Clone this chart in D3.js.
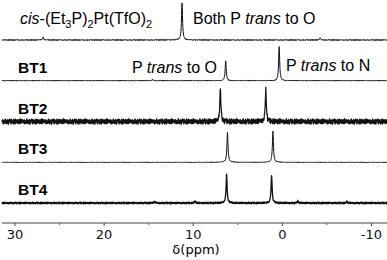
<!DOCTYPE html>
<html>
<head>
<meta charset="utf-8">
<script src="https://cdn.jsdelivr.net/npm/d3@7"></script>
<style>
body { margin: 0; background: #fff; }
text { font-family: "Liberation Sans", Arial, sans-serif; }
.tick text { font-family: "DejaVu Sans", Verdana, sans-serif; }
</style>
</head>
<body>
<svg id="chart"></svg>
<script>
var screen = {width: 387, height: 260};

// spectra, top to bottom
var spectra = ["cis", "BT1", "BT2", "BT3", "BT4"];

// peaks: [ppm, intensity]
var peaksCis = [[11.2, 92], [26.8, 7], [-4.3, 5]];
var peaksBT1 = [[6.3, 50], [0.3, 85], [14.5, 4]];
var peaksBT2 = [[6.9, 85], [1.8, 83]];
var peaksBT3 = [[6.1, 75], [1.0, 78]];
var peaksBT4 = [[6.2, 70], [1.15, 70], [14.3, 4], [9.75, 5], [-1.8, 5], [-7.3, 4]];

// noise level of each trace (same units as intensity)
var noiseLevels = [1.2, 1.0, 7, 0.8, 2.2];
var lineWidths = [1, 1, 1.2, 1, 1.3];

// hand typed baseline wiggle, cycled along each trace
var noiseTable = [0.3, -0.6, 0.9, -0.2, -0.8, 0.5, 0.1, -0.4, 0.7, -0.9,
                  0.2, 0.6, -0.3, -0.7, 0.8, -0.1, 0.4, -0.5, 1.0, -0.6,
                  0.0, 0.5, -0.9, 0.3, 0.7, -0.4, -0.2, 0.9, -0.8, 0.1,
                  0.6, -0.3, -0.6, 0.4, 0.2, -1.0, 0.8, -0.1, 0.5, -0.7,
                  0.3, 0.9, -0.5, -0.2, 0.6, -0.8, 0.1, 0.7, -0.4, -0.3,
                  0.4, -0.9, 0.2, 0.8, -0.6, 0.0, 0.5, -0.2, 0.9, -0.7,
                  -0.1, 0.3, -0.8, 0.6, 0.2, -0.5, 0.7, -0.3, -0.9, 0.4,
                  0.1, -0.6, 0.8, -0.4, 0.5, -0.1, -0.7, 0.9, 0.0, -0.5,
                  0.6, -0.2, 0.3, -0.8, 0.7, 0.2, -0.4, -0.6, 0.5, 0.1,
                  -0.3, 0.8, -0.9, 0.4, -0.1, 0.6, -0.5];

var xTicks = [30, 20, 10, 0, -10];
var xMinorTicks = [25, 15, 5, -5];

var svg = d3.select("#chart")
    .attr("width", screen.width)
    .attr("height", screen.height);

var xScale = d3.scaleLinear()
    .domain([31.4, -11.8])
    .range([2, 387]);

var yPos = d3.scalePoint()
    .domain(spectra)
    .range([40, 203]);

var hScale = d3.scaleLinear()
    .domain([0, 100])
    .range([0, 40]);

var allPeaks = [peaksCis, peaksBT1, peaksBT2, peaksBT3, peaksBT4];

var makeTrace = function(peaks, noise, offset)
{
    var pts = [];
    var step = 0.025;
    var n = Math.round((31.4 + 11.8) / step);
    for (var i = 0; i <= n; i++) {
        var ppm = 31.4 - i * step;
        var v = noiseTable[(i * 7 + offset) % noiseTable.length] * noise;
        peaks.forEach(function(p) {
            var w = 0.07;
            var d = (ppm - p[0]) / w;
            v += p[1] / (1 + d * d);
        });
        pts.push([ppm, v]);
    }
    return pts;
}

spectra.forEach(function(name, k)
{
    var base = yPos(name);
    var line = d3.line()
        .x(function(d) { return xScale(d[0]); })
        .y(function(d) { return base - hScale(d[1]); });
    svg.append("path")
        .datum(makeTrace(allPeaks[k], noiseLevels[k], k * 13))
        .attr("fill", "none")
        .attr("stroke", "#111")
        .attr("stroke-width", lineWidths[k])
        .attr("stroke-linejoin", "round")
        .attr("d", line);
});

// labels
var top0 = svg.append("text")
    .attr("x", 20).attr("y", yPos("cis") - 16)
    .attr("font-size", 16);
top0.append("tspan").attr("font-style", "italic").text("cis");
top0.append("tspan").text("-(Et");
top0.append("tspan").attr("font-size", 11).attr("dy", 4).text("3");
top0.append("tspan").attr("dy", -4).text("P)");
top0.append("tspan").attr("font-size", 11).attr("dy", 4).text("2");
top0.append("tspan").attr("dy", -4).text("Pt(TfO)");
top0.append("tspan").attr("font-size", 11).attr("dy", 4).text("2");

var both = svg.append("text")
    .attr("x", 193).attr("y", yPos("cis") - 16)
    .attr("font-size", 16);
both.append("tspan").text("Both P ");
both.append("tspan").attr("font-style", "italic").text("trans");
both.append("tspan").text(" to O");

var tO = svg.append("text")
    .attr("x", 217).attr("text-anchor", "end")
    .attr("y", yPos("BT1") - 8)
    .attr("font-size", 16);
tO.append("tspan").text("P ");
tO.append("tspan").attr("font-style", "italic").text("trans");
tO.append("tspan").text(" to O");

var tN = svg.append("text")
    .attr("x", 286)
    .attr("y", yPos("BT1") - 10)
    .attr("font-size", 16);
tN.append("tspan").text("P ");
tN.append("tspan").attr("font-style", "italic").text("trans");
tN.append("tspan").text(" to N");

["BT1", "BT2", "BT3", "BT4"].forEach(function(name)
{
    svg.append("text")
        .attr("x", 18)
        .attr("y", yPos(name) - 8)
        .attr("font-size", 15.5)
        .attr("font-weight", "bold")
        .text(name);
});

// axis
var xAxis = d3.axisBottom(xScale)
    .tickValues(xTicks)
    .tickSize(3)
    .tickPadding(4)
    .tickFormat(d3.format("d"));

var ax = svg.append("g")
    .attr("transform", "translate(0,223)")
    .call(xAxis);
ax.select(".domain").attr("d", "M2,0H387").attr("stroke", "#444");
ax.selectAll(".tick line").attr("stroke", "#444");
ax.selectAll(".tick text")
    .attr("font-size", 13)
    .attr("fill", "#111")
    .text(function(d) { return d < 0 ? "-" + Math.abs(d) : d; });

svg.append("g")
    .attr("transform", "translate(0,223)")
    .call(d3.axisBottom(xScale).tickValues(xMinorTicks).tickSize(2).tickFormat(""))
    .call(function(g) { g.select(".domain").remove(); })
    .selectAll(".tick line").attr("stroke", "#666");

svg.append("text")
    .attr("x", 196).attr("y", 254)
    .attr("text-anchor", "middle")
    .attr("font-size", 13)
    .style("font-family", "'DejaVu Sans', Verdana, sans-serif")
    .text("δ(ppm)");
</script>
</body>
</html>
